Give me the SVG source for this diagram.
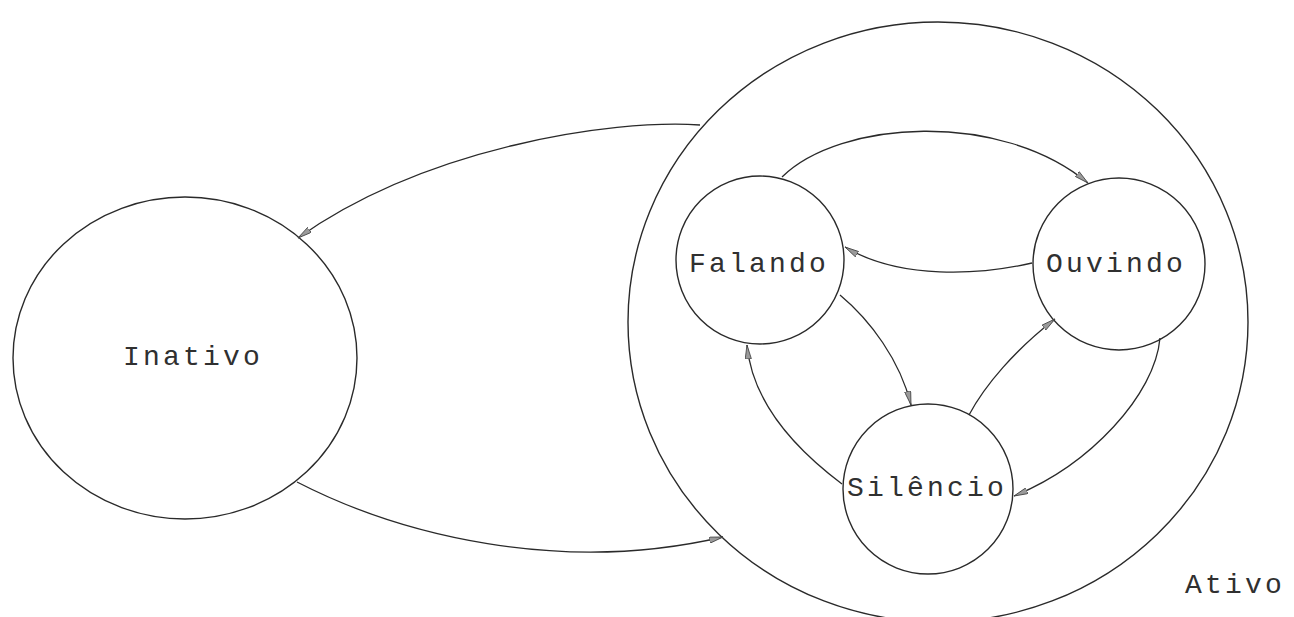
<svg xmlns="http://www.w3.org/2000/svg" width="1294" height="617" viewBox="0 0 1294 617">
  <style>
    .state { fill: none; stroke: #2a2a2a; stroke-width: 1.4; }
    .edge { fill: none; stroke: #2a2a2a; stroke-width: 1.3; marker-end: url(#arrow); }
    .label { font-family: "Liberation Mono", "DejaVu Sans Mono", monospace; font-size: 28px; letter-spacing: 3.2px; fill: #303030; }
  </style>
  <defs>
    <marker id="arrow" viewBox="0 0 14 7" refX="14" refY="3.5" markerWidth="14" markerHeight="7" markerUnits="userSpaceOnUse" orient="auto">
      <path d="M0,0.4 L14,3.5 L0,6.6 Z" fill="#9a9a9a" stroke="#404040" stroke-width="0.8"/>
    </marker>
  </defs>
  <rect width="1294" height="617" fill="#ffffff"/>

  <!-- superstate -->
  <g id="ativo">
    <ellipse class="state" cx="938" cy="322" rx="310" ry="300"/>
    <text class="label" x="1185" y="593">Ativo</text>
  </g>

  <g id="inativo">
    <ellipse class="state" cx="185" cy="358" rx="172" ry="161"/>
    <text class="label" x="123" y="365">Inativo</text>
  </g>

  <g id="falando">
    <circle class="state" cx="760" cy="260" r="84"/>
    <text class="label" x="689" y="272">Falando</text>
  </g>

  <g id="ouvindo">
    <circle class="state" cx="1119" cy="264" r="86"/>
    <text class="label" x="1046" y="272">Ouvindo</text>
  </g>

  <g id="silencio">
    <circle class="state" cx="928" cy="489" r="85"/>
    <text class="label" x="847" y="496">Silêncio</text>
  </g>

  <!-- transitions -->
  <g id="connectors">
    <path class="edge" d="M700,125 C610,119 425,148 298,238"/>
    <path class="edge" d="M297,482 C400,535 560,575 723,537"/>
    <path class="edge" d="M782,177 C840,120 1000,110 1088,183"/>
    <path class="edge" d="M1032,263 C980,275 900,280 845,247"/>
    <path class="edge" d="M840,295 C870,320 900,360 911,405"/>
    <path class="edge" d="M842,484 C790,445 752,400 747,345"/>
    <path class="edge" d="M969,415 C985,385 1015,350 1055,319"/>
    <path class="edge" d="M1160,338 C1155,395 1090,465 1014,496"/>
  </g>
</svg>
